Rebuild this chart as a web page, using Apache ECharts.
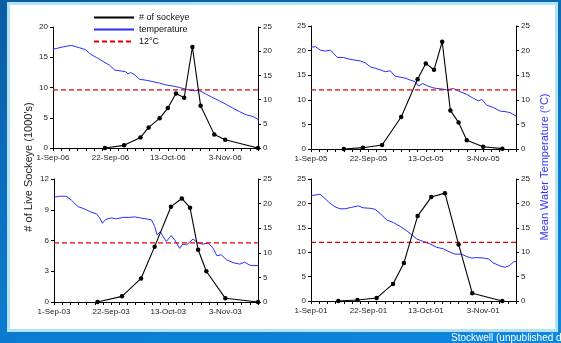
<!DOCTYPE html>
<html>
<head>
<meta charset="utf-8">
<script src="https://cdn.jsdelivr.net/npm/echarts@6/dist/echarts.min.js"></script>
<style>
html, body { margin: 0; padding: 0; }
body {
  width: 561px; height: 343px; overflow: hidden; position: relative;
  background: linear-gradient(165deg, #0a5ca3 0%, #0b72c2 45%, #0e88e0 100%);
}
#panel {
  position: absolute; left: 7px; top: 2px; width: 545px; height: 324px;
  background: #fff; border: 3px solid #b4e3f8;
}
#chart { position: absolute; left: 0; top: 0; width: 561px; height: 343px; }
</style>
</head>
<body>
<div id="panel"></div>
<div id="chart"></div>
<script>
// x axis = days since 1 Sep, labels every 21 days
const xLabels06 = ["1-Sep-06", "22-Sep-06", "13-Oct-06", "3-Nov-06"];
const xLabels05 = ["1-Sep-05", "22-Sep-05", "13-Oct-05", "3-Nov-05"];
const xLabels03 = ["1-Sep-03", "22-Sep-03", "13-Oct-03", "3-Nov-03"];
const xLabels01 = ["1-Sep-01", "22-Sep-01", "13-Oct-01", "3-Nov-01"];

// # of sockeye (1000's)
const sockDays06 = [19, 26, 32, 35, 39, 42, 45, 48, 51, 54, 59, 63, 75];
const sock06 = [0, 0.44, 1.75, 3.4, 4.9, 6.6, 9.0, 8.3, 16.7, 7.0, 2.25, 1.37, 0];
const sockDays05 = [12, 19, 26, 33, 39, 42, 45, 48, 51, 54, 57, 63, 70];
const sock05 = [0, 0.27, 0.8, 6.5, 14.2, 17.4, 16.1, 21.8, 7.8, 5.4, 1.8, 0.47, 0.07];
const sockDays03 = [16, 25, 32, 37, 43, 47, 50, 53, 56, 63, 75];
const sock03 = [0, 0.55, 2.3, 5.4, 9.3, 10.1, 9.2, 5.1, 3.0, 0.36, 0];
const sockDays01 = [10, 17, 24, 30, 34, 39, 44, 49, 54, 59, 70];
const sock01 = [0, 0.2, 0.6, 3.5, 7.8, 17.4, 21.3, 22.1, 11.6, 1.6, 0];

// mean water temperature (°C)
const tempDays06 = [0, 3.7, 6.7, 9.8, 12, 13.4, 15.9, 18.3, 20.7, 22.6, 25, 26.6, 27.4, 28.4, 29.9, 31.7, 34.1, 36.6, 39, 41.5, 43.9, 46.3, 48.8, 51.2, 53.7, 56.1, 58.5, 61, 63.4, 65.9, 68.3, 70.7, 73.2, 75];
const temp06 = [20.4, 20.9, 21.2, 20.7, 20.3, 19.5, 18.7, 17.9, 17.1, 16.1, 15.9, 15.75, 15.3, 15.6, 15.1, 14.2, 14.0, 13.7, 13.4, 13.0, 12.8, 12.5, 12.1, 11.85, 11.85, 11.1, 10.4, 9.7, 9.0, 8.2, 7.5, 6.85, 6.5, 5.9];
const tempDays05 = [0, 1.6, 3.4, 5.2, 7.1, 8.3, 9.7, 11.9, 13.8, 15.6, 18, 19.9, 21.7, 23.5, 25.3, 27.2, 29, 30.8, 32.6, 34.5, 36.3, 38.1, 39.3, 40.9, 42.4, 44.2, 46, 47.9, 49.7, 52.1, 54.6, 57, 59.4, 61.3, 62.5, 64.3, 66.8, 69.2, 71, 72.8, 75];
const temp05 = [20.7, 20.8, 20.1, 19.9, 20.1, 19.4, 18.6, 18.6, 18.3, 18.1, 17.9, 17.5, 16.7, 16.4, 16.1, 15.7, 15.9, 14.8, 14.6, 14.4, 14.0, 13.7, 12.8, 13.3, 12.9, 12.5, 12.3, 12.2, 12.0, 12.3, 11.65, 11.1, 10.3, 9.75, 10.1, 8.9, 8.4, 7.7, 7.6, 7.4, 6.7];
const tempDays03 = [0, 2.1, 4.5, 6.4, 8.8, 11.3, 13.1, 15.6, 16.8, 17.8, 19, 21.1, 22.9, 25.4, 27.8, 29.7, 31.5, 33.9, 35.8, 37, 37.9, 39.1, 40.1, 41.3, 43.1, 44.4, 46.2, 47.4, 48.7, 51.1, 52.9, 54.8, 56.6, 58.5, 59.9, 61.5, 63.4, 65.8, 68.3, 70.1, 71.9, 73.2, 75];
const temp03 = [21.3, 21.5, 21.5, 20.7, 19.4, 18.9, 18.4, 17.9, 17.1, 16.0, 16.8, 17.1, 16.9, 17.2, 17.2, 17.3, 17.1, 16.9, 16.7, 15.4, 13.7, 14.3, 13.3, 12.3, 13.5, 12.6, 10.9, 11.8, 11.6, 12.8, 12.0, 11.75, 12.0, 10.9, 9.4, 9.6, 8.6, 8.0, 7.7, 8.1, 7.5, 7.4, 7.4];
const tempDays01 = [0, 1.5, 3.3, 5.1, 7, 8.8, 10.6, 12.4, 14.9, 17.3, 19.1, 21.6, 23.4, 25.2, 27.7, 30.1, 32.6, 35, 36.8, 38.7, 41.1, 43.5, 46, 48.4, 50.9, 52.7, 55.1, 57, 58.8, 60.6, 63, 64.9, 66.7, 69.1, 71, 72.8, 74, 75];
const temp01 = [21.6, 21.7, 21.9, 21.0, 20.0, 19.3, 18.9, 18.9, 19.2, 19.5, 19.1, 19.0, 18.8, 18.0, 16.6, 16.1, 15.3, 14.4, 13.6, 12.7, 12.2, 11.7, 11.0, 10.7, 10.0, 9.6, 9.6, 9.1, 8.8, 8.9, 8.8, 8.65, 7.8, 7.2, 6.9, 7.3, 8.0, 8.1];

// 12°C reference line
const refDays = [0, 75];
const refTemp = [12, 12];

const leftMax = [20, 25, 12, 25];
const leftStep = [5, 5, 3, 5];

const zip = (xs, ys) => xs.map((x, i) => [x, ys[i]]);

const panels = [
  { labels: xLabels06, sock: zip(sockDays06, sock06), temp: zip(tempDays06, temp06), grid: { left: 53, top: 27, width: 205, height: 121 } },
  { labels: xLabels05, sock: zip(sockDays05, sock05), temp: zip(tempDays05, temp05), grid: { left: 311, top: 26, width: 205, height: 123 } },
  { labels: xLabels03, sock: zip(sockDays03, sock03), temp: zip(tempDays03, temp03), grid: { left: 54, top: 179, width: 204, height: 123 } },
  { labels: xLabels01, sock: zip(sockDays01, sock01), temp: zip(tempDays01, temp01), grid: { left: 311, top: 179, width: 205, height: 122 } },
];

const font = "'Liberation Sans', Arial, sans-serif";
const axisLine = { show: true, lineStyle: { color: "#000", width: 1 } };
const tick = { show: true, length: 3, lineStyle: { color: "#000" } };
const labelStyle = { color: "#222", fontSize: 8, fontFamily: font };

const grid = [], xAxis = [], yAxis = [], series = [];
panels.forEach((p, i) => {
  grid.push(p.grid);
  xAxis.push({
    type: "value", gridIndex: i, min: 0, max: 75, interval: 3,
    axisLine, axisTick: tick, splitLine: { show: false },
    axisLabel: {
      ...labelStyle, margin: 6, showMaxLabel: true,
      formatter: (v) => (v % 21 === 0 ? p.labels[v / 21] : ""),
    },
  });
  yAxis.push({
    type: "value", gridIndex: i, position: "left", min: 0, max: leftMax[i], interval: leftStep[i],
    axisLine, axisTick: tick, splitLine: { show: false },
    axisLabel: { ...labelStyle, margin: 5 },
  });
  yAxis.push({
    type: "value", gridIndex: i, position: "right", min: 0, max: 25, interval: 5,
    axisLine, axisTick: tick, splitLine: { show: false },
    axisLabel: { ...labelStyle, margin: 5 },
  });
  series.push({
    name: "temperature", type: "line", xAxisIndex: i, yAxisIndex: 2 * i + 1,
    data: p.temp, symbol: "none", lineStyle: { color: "#2b2bff", width: 1 }, itemStyle: { color: "#2b2bff" },
    z: 2,
  });
  series.push({
    name: "12°C", type: "line", xAxisIndex: i, yAxisIndex: 2 * i + 1,
    data: zip(refDays, refTemp), symbol: "none",
    lineStyle: { color: "#e60000", width: 1.3, type: [5, 3] }, itemStyle: { color: "#e60000" },
    z: 3,
  });
  series.push({
    name: "# of sockeye", type: "line", xAxisIndex: i, yAxisIndex: 2 * i,
    data: p.sock, symbol: "circle", symbolSize: 4.5,
    lineStyle: { color: "#000", width: 1.1 }, itemStyle: { color: "#000" },
    z: 4,
  });
});

const chart = echarts.init(document.getElementById("chart"));
const option = {
  animation: false,
  backgroundColor: "transparent",
  textStyle: { fontFamily: font },
  legend: {
    data: ["# of sockeye", "temperature", "12°C"],
    orient: "vertical", left: 88, top: 8,
    itemWidth: 40, itemHeight: 10, itemGap: 3,
    itemStyle: { opacity: 0 },
    textStyle: { color: "#111", fontSize: 9, fontFamily: font },
  },
  grid, xAxis, yAxis, series,
  graphic: [
    {
      type: "text", x: 29, y: 167, rotation: Math.PI / 2,
      style: { text: "# of Live Sockeye (1000's)", font: "11px " + font, fill: "#222", align: "center", verticalAlign: "middle" },
    },
    {
      type: "text", x: 545, y: 167, rotation: Math.PI / 2,
      style: { text: "Mean Water Temperature (°C)", font: "11px " + font, fill: "#3333ff", align: "center", verticalAlign: "middle" },
    },
    {
      type: "text", x: 451, y: 333,
      style: { text: "Stockwell (unpublished data)", font: "10px " + font, fill: "#fff", align: "left", verticalAlign: "top" },
    },
  ],
};
chart.setOption(option);
</script>
</body>
</html>
